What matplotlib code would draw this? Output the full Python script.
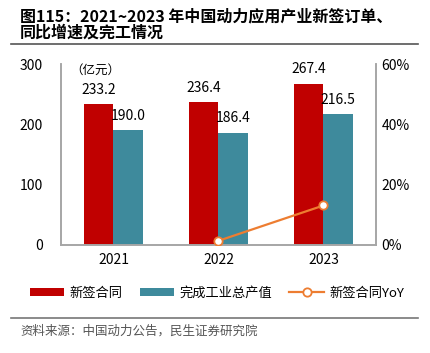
import matplotlib.pyplot as plt
import numpy as np

plt.rcParams['font.family'] = ['Noto Sans CJK SC', 'DejaVu Sans']

years = ['2021', '2022', '2023']
new_orders = [233.2, 236.4, 267.4]
output_value = [190.0, 186.4, 216.5]
yoy_years = [1, 2]
yoy = [1.4, 13.1]

red = '#C00000'
teal = '#3E8A9C'
orange = '#ED7D31'
grey = '#A6A6A6'

fig = plt.figure(figsize=(4.31, 3.53), dpi=100)
ax = fig.add_axes([61 / 431, 1 - 245 / 353, 315 / 431, 181 / 353])
ax2 = ax.twinx()

x = np.arange(len(years))
w = 0.28
b1 = ax.bar(x - w / 2, new_orders, w, color=red, label='新签合同', zorder=2)
b2 = ax.bar(x + w / 2, output_value, w, color=teal, label='完成工业总产值', zorder=2)
for xi, v in zip(x, new_orders):
    ax.text(xi - w / 2, v + 12, f'{v:.1f}', ha='center', va='bottom', fontsize=10)
for xi, v in zip(x, output_value):
    ax.text(xi + w / 2, v + 12, f'{v:.1f}', ha='center', va='bottom', fontsize=10)

ln, = ax2.plot(yoy_years, yoy, color=orange, lw=1.6, marker='o', ms=6,
               markerfacecolor='white', markeredgecolor=orange, markeredgewidth=1.3,
               label='新签合同YoY', zorder=3)

ax.set_xlim(-0.5, 2.5)
ax.set_ylim(0, 300)
ax.set_yticks([0, 100, 200, 300])
ax2.set_ylim(0, 60)
ax2.set_yticks([0, 20, 40, 60])
ax2.set_yticklabels(['0%', '20%', '40%', '60%'])
ax.set_xticks(x)
ax.set_xticklabels(years)

for a in (ax, ax2):
    a.spines['top'].set_visible(False)
    for s in ('left', 'right', 'bottom'):
        a.spines[s].set_color(grey)
        a.spines[s].set_linewidth(1.2)
    a.tick_params(length=0, labelsize=10, colors='black', pad=6)
ax.tick_params(axis='y', pad=13)
ax2.tick_params(axis='y', pad=4)

ax.text(0.03, 1.0, '（亿元）', transform=ax.transAxes, fontsize=9, va='top', ha='left')

fig.legend(handles=[b1, b2, ln], loc='center', bbox_to_anchor=(217 / 431, 1 - 293 / 353),
           ncol=3, frameon=False, fontsize=9.5, handlelength=2.6, handleheight=0.6,
           columnspacing=1.3, handletextpad=0.4)

fig.text(20 / 431, 1 - 16 / 353, '图115：2021~2023 年中国动力应用产业新签订单、',
         fontsize=11.5, fontweight='bold', va='center', ha='left')
fig.text(20 / 431, 1 - 33 / 353, '同比增速及完工情况',
         fontsize=11.5, fontweight='bold', va='center', ha='left')
fig.add_artist(plt.Line2D([11 / 431, 418 / 431], [1 - 44 / 353] * 2, color='#555555', lw=1.2))
fig.add_artist(plt.Line2D([11 / 431, 418 / 431], [1 - 318 / 353] * 2, color='#777777', lw=1.2))
fig.text(20 / 431, 1 - 331 / 353, '资料来源：中国动力公告，民生证券研究院', fontsize=9,
         color='#555555', va='center', ha='left')

fig.savefig('out.png', dpi=100)
